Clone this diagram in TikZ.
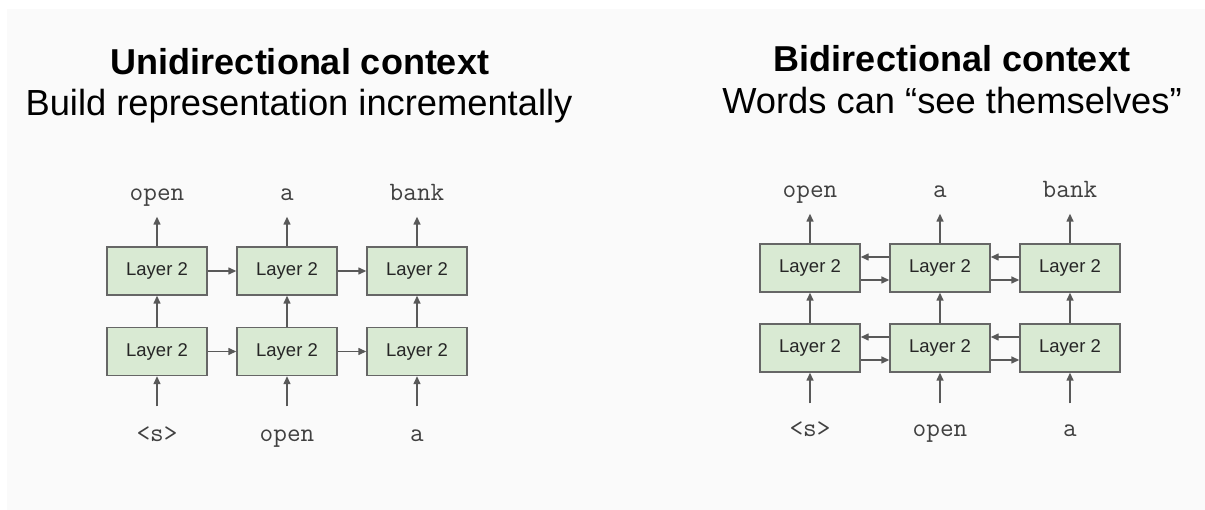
\documentclass[tikz,border=0pt]{standalone}
\usepackage{fontspec}
\setmainfont{Liberation Sans}
\setsansfont{Liberation Sans}
\usetikzlibrary{arrows.meta}
\definecolor{bggray}{HTML}{FAFAFA}
\definecolor{boxgreen}{HTML}{D9EAD3}
\definecolor{boxline}{HTML}{666666}
\definecolor{arrgray}{HTML}{595959}
\definecolor{wordgray}{HTML}{404040}
\tikzset{
  layerbox/.style={draw=boxline, fill=boxgreen, line width=1.4pt, minimum width=100pt, minimum height=48pt, inner sep=0pt, font=\fontsize{18.5}{20}\selectfont, text=black!85},
  arr/.style={draw=arrgray, line width=1.4pt, -{Triangle[length=8pt,width=7pt]}},
  word/.style={inner sep=0pt, text height=0pt, text depth=0pt, anchor=base, font=\ttfamily\fontsize{26.5}{28}\selectfont, text=wordgray},
  titletext/.style={inner sep=0pt, anchor=base, font=\bfseries\fontsize{36}{40}\selectfont},
  subtext/.style={inner sep=0pt, anchor=base, font=\fontsize{36.3}{40}\selectfont}
}
\begin{document}
\begin{tikzpicture}[x=1pt,y=-1pt]
\useasboundingbox (0,0) rectangle (1205,510);
\fill[white] (0,0) rectangle (1205,510);
\fill[bggray] (7,9) rectangle (1205,510);

% ---------- Left panel ----------
\node[titletext] (t1) at (300,75) {Unidirectional context};
\node[subtext] (s1) at (299,116) {Build representation incrementally};

\node[layerbox] (L11) at (157,271) {Layer 2};
\node[layerbox] (L12) at (287,271) {Layer 2};
\node[layerbox] (L13) at (417,271) {Layer 2};
\node[layerbox] (L21) at (157,351.5) {Layer 2};
\node[layerbox] (L22) at (287,351.5) {Layer 2};
\node[layerbox] (L23) at (417,351.5) {Layer 2};

\node[word] (Lo1) at (157,201) {open};
\node[word] (Lo2) at (287,201) {a};
\node[word] (Lo3) at (417,201) {bank};
\node[word] (Li1) at (157,442) {<s>};
\node[word] (Li2) at (287,442) {open};
\node[word] (Li3) at (417,442) {a};

\foreach \c in {1,2,3}{
  \draw[arr, shorten >=15pt] (L1\c.north) -- (Lo\c.south);
  \draw[arr] (L2\c.north) -- (L1\c.south);
  \draw[arr, shorten <=35pt] (Li\c.north) -- (L2\c.south);
}
\draw[arr] (L11.east) -- (L12.west);
\draw[arr] (L12.east) -- (L13.west);
\draw[arr] (L21.east) -- (L22.west);
\draw[arr] (L22.east) -- (L23.west);

% ---------- Right panel ----------
\node[titletext] (t2) at (952,72) {Bidirectional context};
\node[subtext] (s2) at (952,114) {Words can “see themselves”};

\node[layerbox] (R11) at (810,268) {Layer 2};
\node[layerbox] (R12) at (940,268) {Layer 2};
\node[layerbox] (R13) at (1070,268) {Layer 2};
\node[layerbox] (R21) at (810,348) {Layer 2};
\node[layerbox] (R22) at (940,348) {Layer 2};
\node[layerbox] (R23) at (1070,348) {Layer 2};

\node[word] (Ro1) at (810,198) {open};
\node[word] (Ro2) at (940,198) {a};
\node[word] (Ro3) at (1070,198) {bank};
\node[word] (Ri1) at (810,437) {<s>};
\node[word] (Ri2) at (940,437) {open};
\node[word] (Ri3) at (1070,437) {a};

\foreach \c in {1,2,3}{
  \draw[arr, shorten >=15pt] (R1\c.north) -- (Ro\c.south);
  \draw[arr] (R2\c.north) -- (R1\c.south);
  \draw[arr, shorten <=33pt] (Ri\c.north) -- (R2\c.south);
}
\foreach \r in {1,2}{
  \draw[arr] ([yshift=11pt]R\r2.west) -- ([yshift=11pt]R\r1.east);
  \draw[arr] ([yshift=-12pt]R\r1.east) -- ([yshift=-12pt]R\r2.west);
  \draw[arr] ([yshift=11pt]R\r3.west) -- ([yshift=11pt]R\r2.east);
  \draw[arr] ([yshift=-12pt]R\r2.east) -- ([yshift=-12pt]R\r3.west);
}
\end{tikzpicture}
\end{document}
